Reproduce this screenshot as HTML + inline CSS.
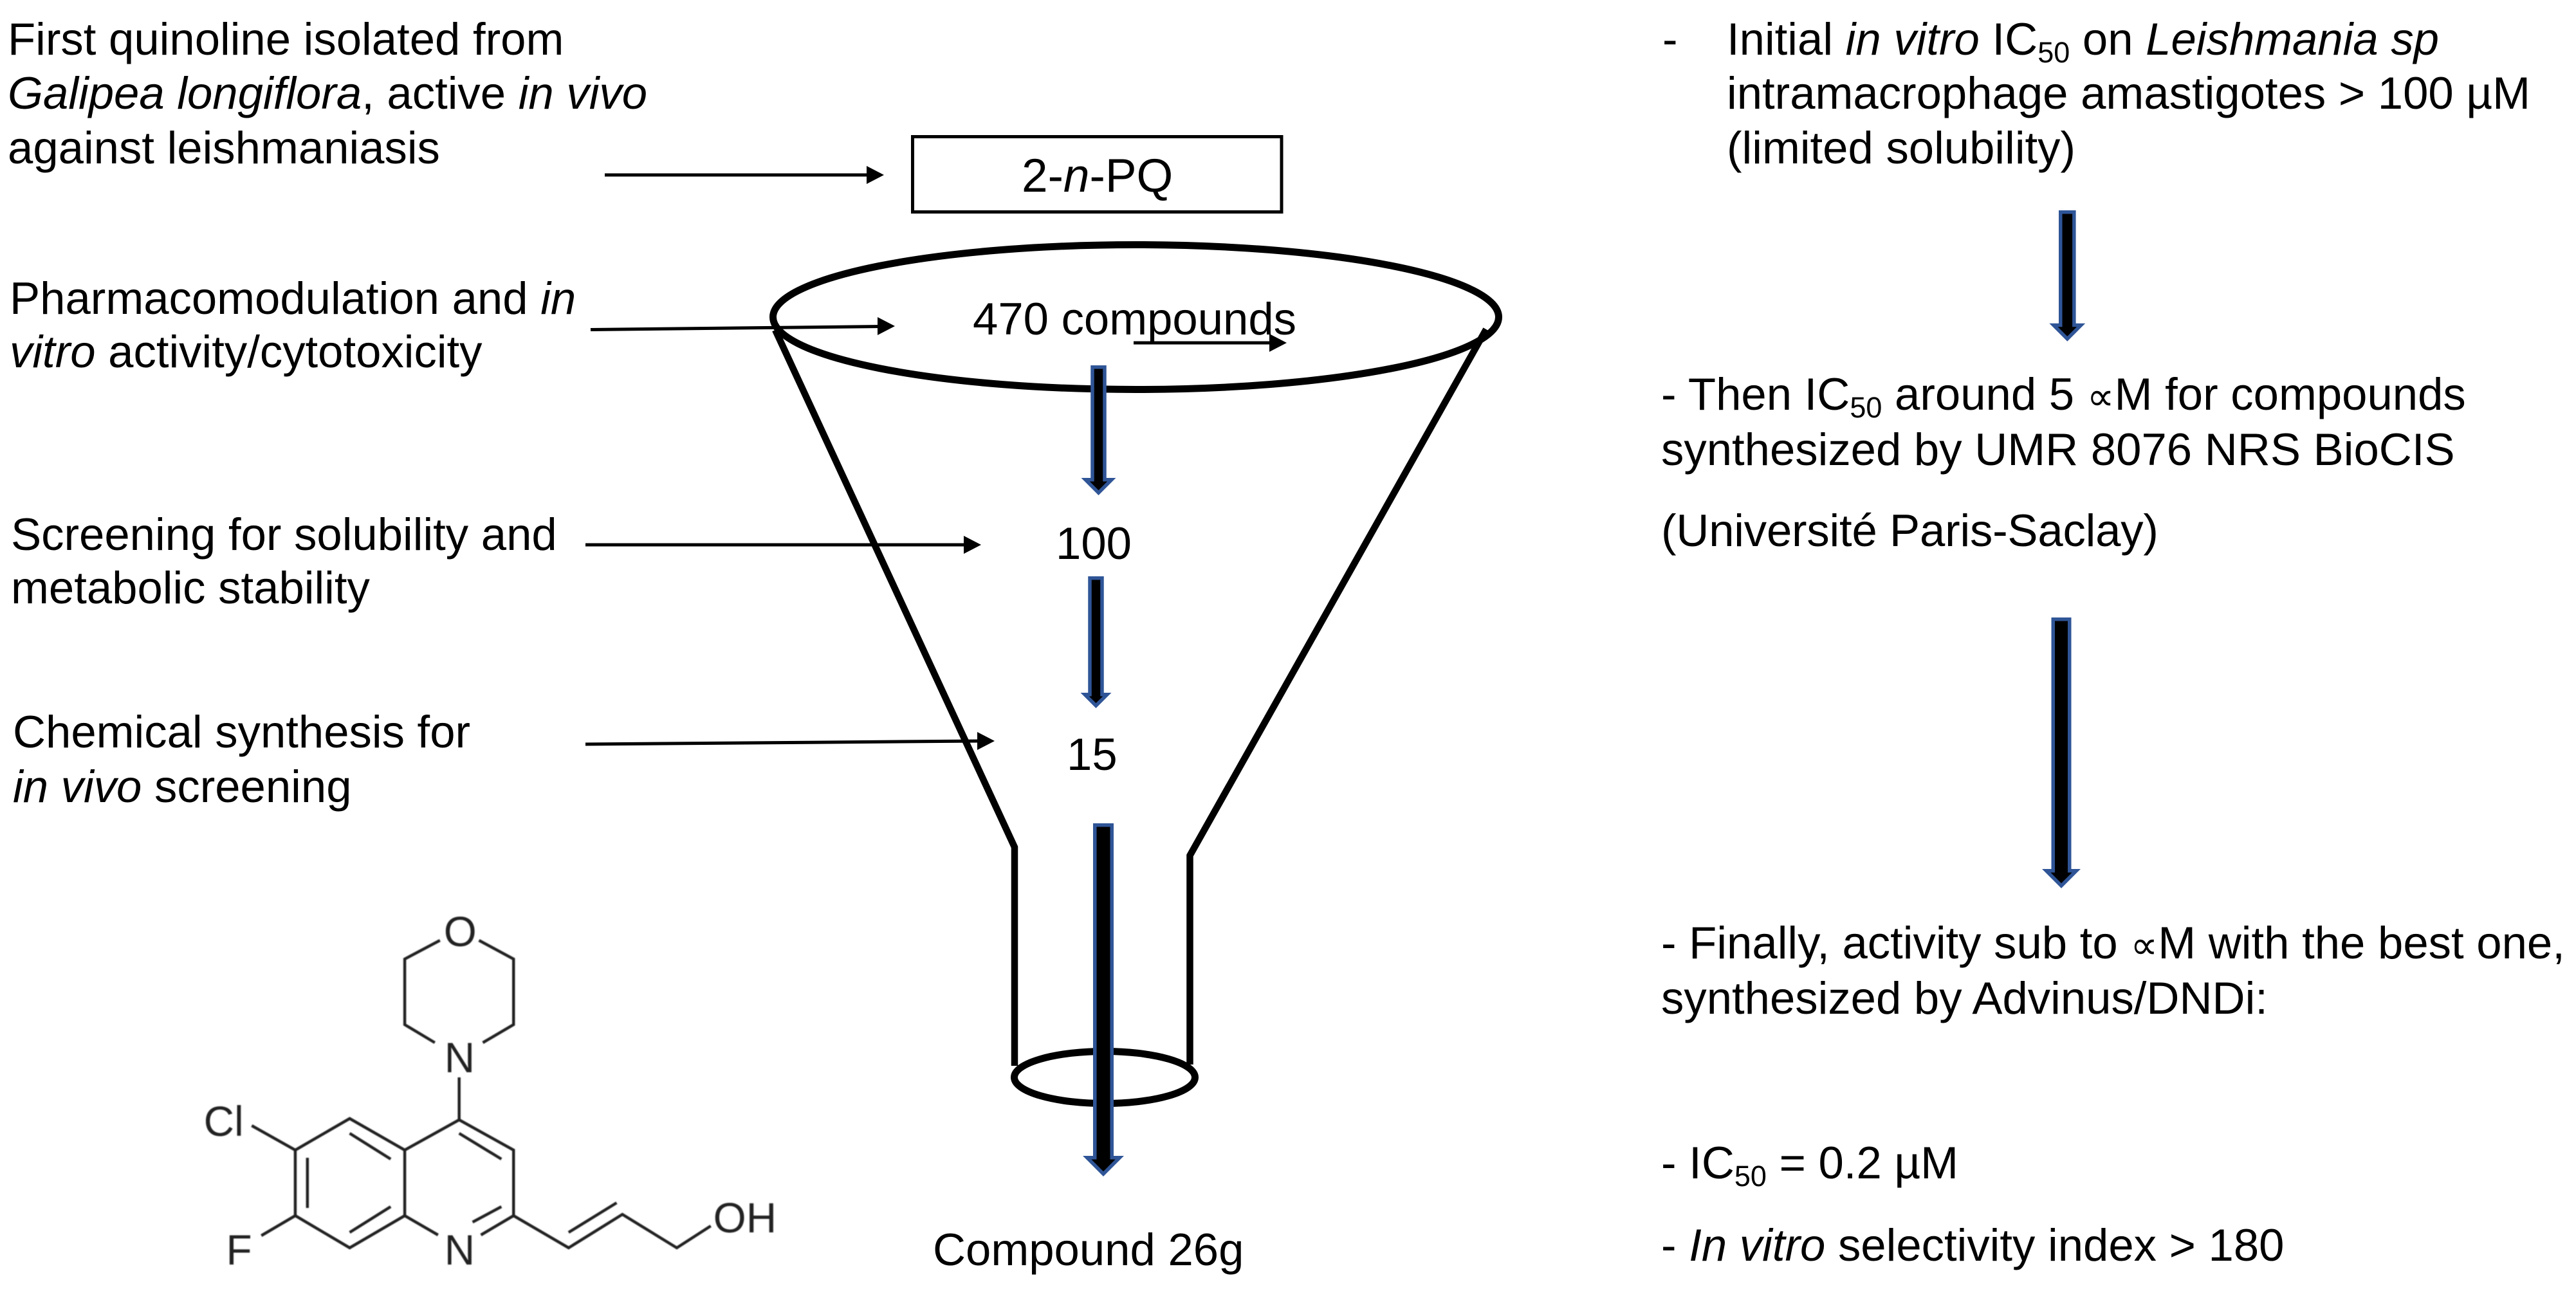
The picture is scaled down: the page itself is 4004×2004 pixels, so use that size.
<!DOCTYPE html>
<html>
<head>
<meta charset="utf-8">
<style>
html,body{margin:0;padding:0;background:#fff;}
svg{display:block;}
text{font-family:"Liberation Sans",Arial,sans-serif;font-size:70.7px;fill:#000;}
.i{font-style:italic;}
.m text{font-size:66px;fill:#222;}
.sym{font-family:"DejaVu Sans",sans-serif;font-size:60px;}
.sub{font-size:45px;}
</style>
</head>
<body>
<svg xmlns="http://www.w3.org/2000/svg" width="4004" height="2004" viewBox="0 0 4004 2004">
<defs><filter id="b" x="-5%" y="-5%" width="110%" height="110%"><feGaussianBlur stdDeviation="0.8"/></filter></defs>
<rect width="4004" height="2004" fill="#fff"/>

<!-- Left labels -->
<text x="12" y="85">First quinoline isolated from</text>
<text x="12" y="169"><tspan class="i">Galipea longiflora</tspan>, active <tspan class="i">in vivo</tspan></text>
<text x="12" y="254">against leishmaniasis</text>
<text x="15" y="488">Pharmacomodulation and <tspan class="i">in</tspan></text>
<text x="15" y="571"><tspan class="i">vitro</tspan> activity/cytotoxicity</text>
<text x="17" y="855">Screening for solubility and</text>
<text x="17" y="938">metabolic stability</text>
<text x="20" y="1162">Chemical synthesis for</text>
<text x="20" y="1247"><tspan class="i">in vivo</tspan> screening</text>

<!-- Box -->
<rect x="1418.5" y="212.5" width="573.5" height="117" fill="none" stroke="#000" stroke-width="5"/>
<text x="1588" y="298" style="font-size:73px">2-<tspan class="i">n</tspan>-PQ</text>

<!-- Funnel -->
<ellipse cx="1765.5" cy="493" rx="564" ry="112.5" fill="none" stroke="#000" stroke-width="11"/>
<path d="M1205 513 L1577 1317 L1577 1657" fill="none" stroke="#000" stroke-width="10.500"/>
<path d="M2310 512 L1849.500 1330 L1849.500 1655" fill="none" stroke="#000" stroke-width="10.500"/>
<ellipse cx="1717" cy="1675" rx="140.500" ry="40.500" fill="none" stroke="#000" stroke-width="11"/>

<text x="1512" y="520">470 compounds</text>
<text x="1641" y="869">100</text>
<text x="1658" y="1197">15</text>
<text x="1450" y="1967">Compound 26g</text>

<!-- Thin arrows -->
<g stroke="#000" stroke-width="5" fill="none">
<line x1="940" y1="272" x2="1355" y2="272"/>
<line x1="918" y1="512.5" x2="1372" y2="507.5"/>
<line x1="1762" y1="533" x2="1980" y2="533"/>
<line x1="910" y1="847" x2="1505" y2="847"/>
<line x1="910" y1="1157" x2="1527" y2="1152"/>
</g>
<g fill="#000">
<polygon points="1374,272 1347,258 1347,286"/>
<polygon points="1391,507 1364,493 1364,521"/>
<polygon points="2000,533 1973,519 1973,547"/>
<polygon points="1525,847 1498,833 1498,861"/>
<polygon points="1546,1152 1519,1138 1519,1166"/>
</g>

<!-- Block arrows -->
<g fill="#000" stroke="#2f5597" stroke-width="5.500" stroke-miterlimit="4">
<polygon points="1698,570.75 1717,570.75 1717,745.75 1727.85,745.75 1707.5,766.1 1687.15,745.75 1698,745.75"/>
<polygon points="1694,898.75 1713,898.75 1713,1079.75 1720.85,1079.75 1703.5,1097.1 1686.15,1079.75 1694,1079.75"/>
<polygon points="1701.75,1282.75 1728.25,1282.75 1728.25,1799.75 1740.35,1799.75 1715,1825.1 1689.65,1799.75 1701.75,1799.75"/>
<polygon points="3202.75,329.75 3223.85,329.75 3223.85,505.45 3234.65,505.45 3213.3,526.8 3191.95,505.45 3202.75,505.45"/>
<polygon points="3191.25,962.75 3216.75,962.75 3216.75,1353.75 3227.35,1353.75 3204,1377.1 3180.65,1353.75 3191.25,1353.75"/>
</g>

<!-- Right text -->
<text x="2584" y="85">-</text>
<text x="2684" y="85">Initial <tspan class="i">in vitro</tspan> IC<tspan class="sub" dy="12">50</tspan><tspan dy="-12"> on </tspan><tspan class="i">Leishmania sp</tspan></text>
<text x="2684" y="169">intramacrophage amastigotes &gt; 100 µM</text>
<text x="2684" y="254">(limited solubility)</text>
<text x="2582" y="637">- Then IC<tspan class="sub" dy="12">50</tspan><tspan dy="-12"> around 5 </tspan><tspan class="sym">∝</tspan>M for compounds</text>
<text x="2582" y="723">synthesized by UMR 8076 NRS BioCIS</text>
<text x="2582" y="849" letter-spacing="-0.2">(Université Paris-Saclay)</text>
<text x="2582" y="1490">- Finally, activity sub to <tspan class="sym">∝</tspan>M with the best one,</text>
<text x="2582" y="1576">synthesized by Advinus/DNDi:</text>
<text x="2582" y="1832">- IC<tspan class="sub" dy="12">50</tspan><tspan dy="-12"> = 0.2 µM</tspan></text>
<text x="2582" y="1960">- <tspan class="i">In vitro</tspan> selectivity index &gt; 180</text>

<!-- Molecule -->
<g class="m" transform="translate(1.25,0) scale(0.995,1)" filter="url(#b)">
<g fill="none" stroke="#222" stroke-width="4.500" stroke-linejoin="miter">
<path d="M686 1462 L631 1491 L631 1593 L678 1621"/>
<path d="M747 1462 L801 1491 L801 1593 L753 1621"/>
<path d="M716 1675 L716 1741"/>
<path d="M716 1741 L631 1788 L631 1890 M716 1741 L801 1788 L801 1890"/>
<path d="M631 1788 L545 1739 L460 1788 L460 1890 L545 1940 L631 1890"/>
<path d="M545 1762 L609 1802 M479 1800 L479 1878 M545 1916 L609 1876"/>
<path d="M716 1762 L782 1802 M737 1900 L782 1876"/>
<path d="M801 1890 L750 1920 M631 1890 L683 1920"/>
<path d="M460 1788 L392 1750 M460 1890 L407 1921"/>
<path d="M801 1890 L887 1940 L971 1888 L1056 1940 L1109 1906"/>
<path d="M887 1916 L962 1870"/>
</g>
<text x="317" y="1766">Cl</text>
<text x="352" y="1966">F</text>
<text x="693" y="1966">N</text>
<text x="693" y="1667">N</text>
<text x="692" y="1471">O</text>
<text x="1113" y="1916">OH</text>
</g>
</svg>
</body>
</html>
